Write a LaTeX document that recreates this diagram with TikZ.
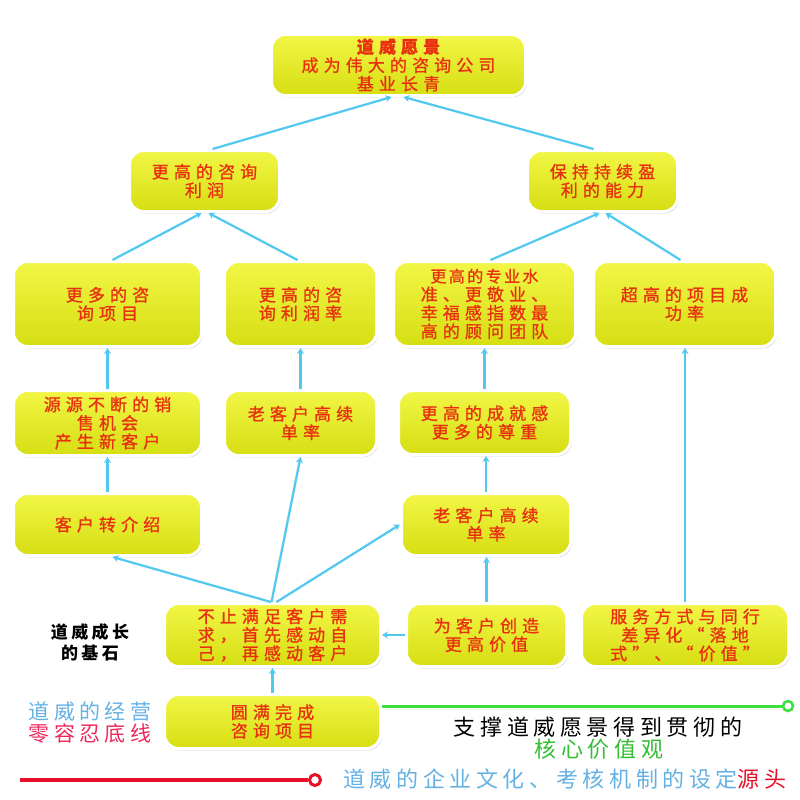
\documentclass[tikz,border=0pt]{standalone}
\usepackage{fontspec}
\setmainfont{Noto Sans CJK SC}
\newfontfamily\boxfont[LetterSpace=30,FakeBold=1]{Noto Sans CJK SC}
\newfontfamily\bigfont[LetterSpace=21]{Noto Sans CJK SC}
\newfontfamily\lblfont[LetterSpace=20]{Noto Sans CJK SC}
\usetikzlibrary{shadows,arrows.meta,calc}
\definecolor{boxtop}{RGB}{242,246,70}
\definecolor{boxbot}{RGB}{214,222,18}
\definecolor{boxtext}{RGB}{232,48,16}
\definecolor{conncol}{RGB}{80,200,240}
\definecolor{lblue}{RGB}{100,178,228}
\definecolor{gcol}{RGB}{60,224,60}
\definecolor{rcol}{RGB}{232,16,40}
\definecolor{pinkred}{RGB}{238,40,90}
\tikzset{
  box/.style={rounded corners=14pt, draw=white, line width=3pt,
    top color=boxtop, bottom color=boxbot,
    drop shadow={shadow xshift=1.2pt, shadow yshift=-1.8pt, fill=black!35},
    font=\boxfont\fontsize{17}{18.5}\selectfont, text=boxtext, align=center, inner sep=0pt},
  conn/.style={draw=conncol, line width=2.2pt, -{Stealth[length=6pt,width=7pt]}},
  bigtxt/.style={font=\bigfont\fontsize{22}{24}\selectfont, inner sep=0pt, anchor=center},
  lbltxt/.style={font=\fontsize{15}{20}\selectfont, inner sep=0pt, align=center}
}
\newcommand\mybox[6]{\node[box, minimum width={(#4-#2-3)*1pt}, minimum height={(#5-#3-3)*1pt}] (#1) at ({(#2+#4)/2},{(#3+#5)/2}) {#6};}
\begin{document}
\begin{tikzpicture}[x=1pt,y=-1pt]
\useasboundingbox[fill=white] (0,0) rectangle (800,800);
\mybox{top}{270}{33}{527}{97}{{\bfseries 道威愿景}\\成为伟大的咨询公司\\基业长青}
\mybox{ltwo}{128}{149}{281}{213}{更高的咨询\\利润}
\mybox{rtwo}{526}{149}{679}{213}{保持持续盈\\利的能力}
\mybox{a}{12}{260}{203}{348}{更多的咨\\询项目}
\mybox{b}{223}{260}{378}{348}{更高的咨\\询利润率}
\mybox{c}{392}{260}{577}{348}{\addfontfeature{LetterSpace=15}\fontsize{16}{18.5}\selectfont 更高的专业水\\准、更敬业、\\幸福感指数最\\高的顾问团队}
\mybox{d}{592}{260}{777}{348}{超高的项目成\\功率}
\mybox{fl}{12}{389}{203}{457}{源源不断的销\\售机会\\产生新客户}
\mybox{fm}{223}{389}{378}{457}{老客户高续\\单率}
\mybox{fr}{397}{389}{572}{456}{更高的成就感\\更多的尊重}
\mybox{vl}{12}{492}{203}{557}{客户转介绍}
\mybox{vr}{400}{492}{572}{557}{老客户高续\\单率}
\mybox{sl}{163}{602}{382}{668}{不止满足客户需\\求，首先感动自\\己，再感动客户}
\mybox{sm}{405}{602}{568}{668}{为客户创造\\更高价值}
\mybox{sr}{580}{602}{790}{668}{服务方式与同行\\差异化“落地\\式”、“价值”}
\mybox{bt}{163}{693}{382}{750}{圆满完成\\咨询项目}
% connectors
\draw[conn] ([xshift=8pt]ltwo.north) -- ([xshift=-7pt]top.south);
\draw[conn] ([xshift=-9pt]rtwo.north) -- ([xshift=5pt]top.south);
\draw[conn] ([xshift=5pt]a.north) -- ([xshift=-3pt]ltwo.south);
\draw[conn] ([xshift=-3pt]b.north) -- ([xshift=4pt]ltwo.south);
\draw[conn] ([xshift=6pt]c.north) -- ([xshift=-3pt]rtwo.south);
\draw[conn] ([xshift=-4pt]d.north) -- ([xshift=3pt]rtwo.south);
\draw[conn] (fl.north) -- (a.south);
\draw[conn] (fm.north) -- (b.south);
\draw[conn] (fr.north) -- (fr.north |- c.south);
\draw[conn] (vl.north) -- (fl.south);
\draw[conn] (vr.north) -- (vr.north |- fr.south);
\draw[conn] (sm.north) -- (sm.north |- vr.south);
\draw[conn] (sr.north) -- (sr.north |- d.south);
\draw[conn] ([xshift=-1.5pt]sl.north) -- ([xshift=5pt]vl.south);
\draw[conn] ([xshift=-1pt]sl.north) -- (fm.south);
\draw[conn] ([xshift=4pt]sl.north) -- (vr.west);
\draw[conn] (sm.west) -- (sm.west -| sl.east);
\draw[conn] (bt.north) -- (sl.south);
% side labels
\node[lbltxt, font=\lblfont\fontsize{17}{21}\selectfont\bfseries] (base) at (90,642) {道威成长\\的基石};
\node[lbltxt, font=\bigfont\fontsize{21}{21}\selectfont, text=lblue] (jy) at (90,712) {道威的经营};
\node[lbltxt, font=\bigfont\fontsize{21}{21}\selectfont, text=pinkred] (dx) at (90,734) {零容忍底线};
% green line
\node[circle, draw=gcol, line width=2.5pt, fill=white, minimum size=10pt, inner sep=0pt] (gc) at (788,706) {};
\draw[draw=gcol, line width=3pt] ([yshift=15.5pt]bt.east) -- (gc.west);
\node[bigtxt] (t1) at (598,727) {支撑道威愿景得到贯彻的};
\node[bigtxt, text=gcol!85!black] (t2) at (599,749) {核心价值观};
% red line
\coordinate (rs) at (20,780);
\node[circle, draw=rcol, line width=3pt, fill=white, minimum size=11pt, inner sep=0pt] (rc) at (315,780) {};
\draw[draw=rcol, line width=3.5pt] (rs) -- (rc.west);
\node[bigtxt, anchor=west, text=lblue] (t3) at (343,779) {道威的企业文化、考核机制的设定\textcolor{rcol}{源头}};
\end{tikzpicture}
\end{document}
